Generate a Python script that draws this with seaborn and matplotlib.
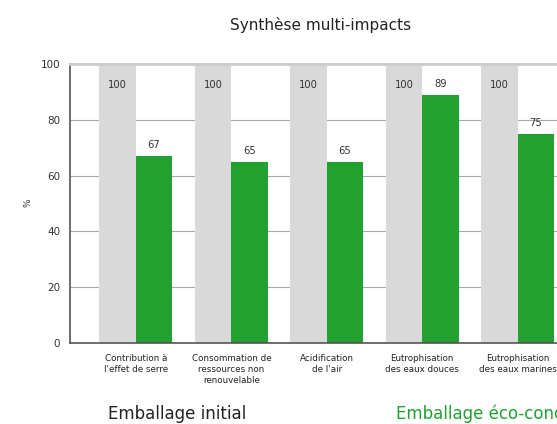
import matplotlib
matplotlib.use("Agg")
import matplotlib.pyplot as plt
import seaborn as sns
import pandas as pd

categories = ["Contribution à\nl'effet de serre",
              "Consommation de\nressources non\nrenouvelable",
              "Acidification\nde l'air",
              "Eutrophisation\ndes eaux douces",
              "Eutrophisation\ndes eaux marines"]
series_names = ["Emballage initial", "Emballage éco-conçu"]
initial_values = [100, 100, 100, 100, 100]
eco_values = [67, 65, 65, 89, 75]
yticks = [0, 20, 40, 60, 80, 100]

rows = []
for c, v in zip(categories, initial_values):
    rows.append({"cat": c, "serie": series_names[0], "val": v})
for c, v in zip(categories, eco_values):
    rows.append({"cat": c, "serie": series_names[1], "val": v})
df = pd.DataFrame(rows)

sns.set_theme(style="white")
plt.rcParams['font.family'] = ['DejaVu Sans']

grey = "#d9d9d9"
green = "#22a131"

fig = plt.figure(figsize=(5.57, 4.24), dpi=100)
ax = fig.add_axes([70/557, 1 - 343/424, (575-70)/557, (343-64)/424])
sns.barplot(data=df, x="cat", y="val", hue="serie", palette=[grey, green],
            width=0.764, ax=ax, legend=False, saturation=1)
for p in ax.patches:
    p.set_edgecolor("none")

ax.set_xlim(-0.69, 4.6)
ax.set_ylim(0, 100)
ax.set_yticks(yticks)
ax.set_yticklabels([str(t) for t in yticks], fontsize=7.5, color="#333333")
ax.tick_params(axis="y", length=0, pad=7)
ax.tick_params(axis="x", length=0, pad=8)
ax.set_xticks(range(len(categories)))
ax.set_xticklabels(categories, fontsize=6.3, color="#222222", linespacing=1.25)
ax.set_xlabel("")
ax.set_ylabel("")
fig.text(28/557, 1 - 203/424, "%", rotation=90, ha="center", va="center",
         fontsize=6.5, color="#333333")
ax.yaxis.grid(True, color="#aaaaaa", linewidth=0.8)
ax.set_axisbelow(True)
for s in ["left", "bottom"]:
    ax.spines[s].set_color("#555555")
    ax.spines[s].set_linewidth(1.2)
ax.spines["top"].set_color("#cccccc")
ax.spines["top"].set_linewidth(2)
ax.spines["right"].set_visible(False)

n = len(categories)
bars_init = ax.patches[:n]
bars_eco = ax.patches[n:2*n]
for b, v in zip(bars_init, initial_values):
    ax.annotate(str(v), (b.get_x() + b.get_width()/2, v), xytext=(0, -15),
                textcoords="offset points", ha="center", va="center",
                fontsize=7.2, color="#333333")
for b, v in zip(bars_eco, eco_values):
    ax.annotate(str(v), (b.get_x() + b.get_width()/2, v), xytext=(0, 8),
                textcoords="offset points", ha="center", va="center",
                fontsize=7.2, color="#333333")

fig.text(321/557, 1 - 25/424, "Synthèse multi-impacts", ha="center", va="center",
         fontsize=11, color="#222222")
fig.text(108/557, 1 - 414/424, series_names[0], ha="left", va="center",
         fontsize=12, color="#222222")
fig.text(396/557, 1 - 414/424, series_names[1], ha="left", va="center",
         fontsize=12, color=green)

fig.savefig("out.png", dpi=100)
